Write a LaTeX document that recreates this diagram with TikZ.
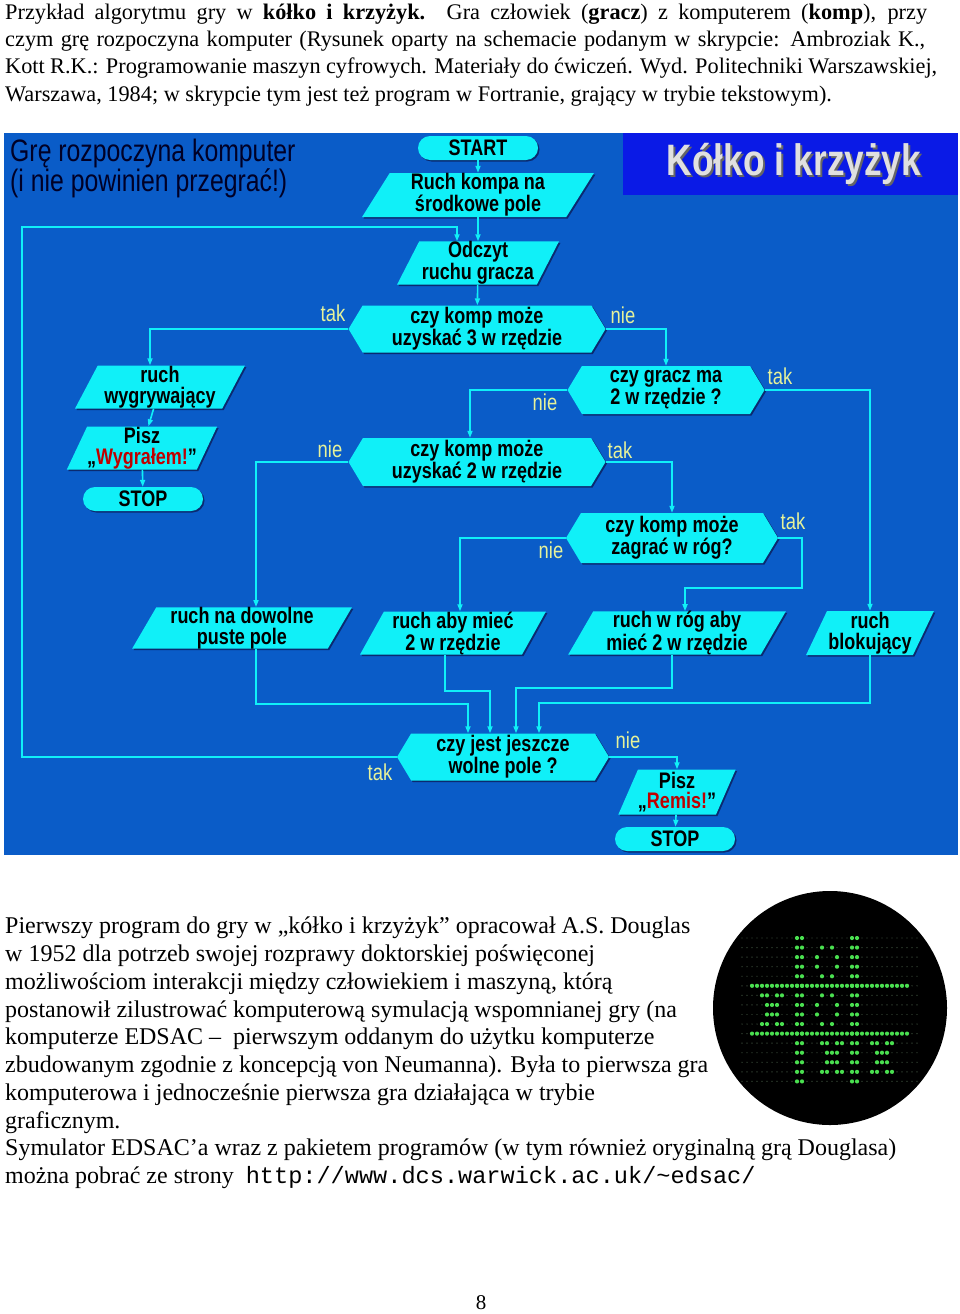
\documentclass[tikz,border=0pt]{standalone}
\usepackage{fontspec}
\setmainfont{Liberation Serif}
\setmonofont{Liberation Mono}
\newfontfamily\chartfont[FakeStretch=0.8]{Liberation Sans}
\usetikzlibrary{shapes.geometric, shapes.symbols, shapes.misc, shadows, arrows.meta}
\definecolor{panelblue}{HTML}{0A5CC8}
\definecolor{titleblue}{HTML}{0A1AE6}
\definecolor{boxcyan}{HTML}{10F0F8}
\definecolor{shadowblue}{HTML}{0A2A70}
\definecolor{labelyellow}{HTML}{E6F29A}
\definecolor{dotgreen}{HTML}{4AE050}
\definecolor{dimgreen}{HTML}{3A4A3A}
\tikzset{
  box/.style={fill=boxcyan, text=black, inner sep=0pt, align=center,
    font=\chartfont\bfseries\fontsize{22.5}{20.5}\selectfont,
    drop shadow={fill=shadowblue, shadow xshift=1.5pt, shadow yshift=-1.5pt, opacity=1}},
  iobox/.style={box, trapezium, trapezium left angle=64, trapezium right angle=116,
    trapezium stretches=true},
  askbox/.style={box, signal, signal to=east and west, signal pointer angle=118},
  termbox/.style={box, rounded rectangle, minimum width=120pt, minimum height=24pt},
  flow/.style={draw=boxcyan, line width=1.6pt, -{Triangle[length=7pt,width=5pt]}},
  answer/.style={text=labelyellow, font=\chartfont\fontsize{23}{23}\selectfont},
  para/.style={anchor=base west, inner sep=0pt, font=\fontsize{22.3}{26}\selectfont},
  lowpara/.style={anchor=base west, inner sep=0pt, font=\fontsize{24}{28}\selectfont},
}
\begin{document}
\begin{tikzpicture}[x=1pt, y=-1pt]
  \useasboundingbox (0,0) rectangle (960,1314);
  \fill[white] (0,0) rectangle (960,1314);

  % text above the chart
  \node[para] (t1) at (5,20) {\hbox to 922pt{Przykład algorytmu gry w \textbf{kółko i krzyżyk.} Gra człowiek (\textbf{gracz}) z komputerem (\textbf{komp}), przy}};
  \node[para] (t2) at (5,47) {\hbox to 920pt{czym grę rozpoczyna komputer (Rysunek oparty na schemacie podanym w skrypcie: Ambroziak K.,}};
  \node[para] (t3) at (5,74) {\hbox to 932pt{Kott R.K.: Programowanie maszyn cyfrowych. Materiały do ćwiczeń. Wyd. Politechniki Warszawskiej,}};
  \node[para] (t4) at (5,101) {Warszawa, 1984; w skrypcie tym jest też program w Fortranie, grający w trybie tekstowym).};

  % chart panel
  \fill[panelblue] (4,133) rectangle (958,855);
  \fill[titleblue] (623,133) rectangle (958,195);
  \node[text=black!60, font=\chartfont\bfseries\fontsize{44}{44}\selectfont] at (796,166) {Kółko i krzyżyk};
  \node[text=black!12, font=\chartfont\bfseries\fontsize{44}{44}\selectfont] (title) at (794,164) {Kółko i krzyżyk};
  \node[anchor=north west, align=left, inner sep=0pt, text=black!85!blue,
    font=\chartfont\fontsize{31}{29}\selectfont] (motto) at (10,139) {Grę rozpoczyna komputer\\(i nie powinien przegrać!)};

  \node[termbox] (start) at (478,148) {START};
  \node[iobox, minimum width=232pt, minimum height=44pt] (p1) at (478,195) {Ruch kompa na\\środkowe pole};
  \node[iobox, minimum width=162pt, minimum height=43pt] (p2) at (478,263) {Odczyt\\ruchu gracza};
  \node[askbox, minimum width=257pt, minimum height=47pt] (d1) at (477,329) {czy komp może\\uzyskać 3 w rzędzie};
  \node[iobox, minimum width=170pt, minimum height=43pt] (p3) at (160,387) {ruch\\wygrywający};
  \node[iobox, minimum width=140pt, minimum height=43pt] (p4) at (142,448) {Pisz\\„{\color{red!75!black}Wygrałem!}”};
  \node[termbox] (stop1) at (143,499) {STOP};
  \node[askbox, minimum width=197pt, minimum height=48pt] (d2) at (666,390) {czy gracz ma\\2 w rzędzie ?};
  \node[askbox, minimum width=257pt, minimum height=48pt] (d3) at (477,462) {czy komp może\\uzyskać 2 w rzędzie};
  \node[askbox, minimum width=212pt, minimum height=50pt] (d4) at (672,538) {czy komp może\\zagrać w róg?};
  \node[iobox, minimum width=220pt, minimum height=41pt] (p5) at (242,628) {ruch na dowolne\\puste pole};
  \node[iobox, minimum width=186pt, minimum height=43pt] (p6) at (453,633) {ruch aby mieć\\2 w rzędzie};
  \node[iobox, minimum width=218pt, minimum height=43pt] (p7) at (677,633) {ruch w róg aby\\mieć 2 w rzędzie};
  \node[iobox, minimum width=128pt, minimum height=44pt] (p8) at (870,633) {ruch\\blokujący};
  \node[askbox, minimum width=212pt, minimum height=47pt] (d5) at (503,757) {czy jest jeszcze\\wolne pole ?};
  \node[iobox, minimum width=112pt, minimum height=45pt] (p9) at (677,792) {Pisz\\„{\color{red!75!black}Remis!}”};
  \node[termbox] (stop2) at (675,839) {STOP};

  \coordinate (loop) at (22,227);
  \coordinate (k4) at (802,588);

  \draw[flow] (start) -- (p1);
  \draw[flow] (p1) -- (p2);
  \draw[flow] (d5.west) -| (loop) -| ([xshift=-21pt]p2.north);
  \draw[flow] (p2) -- (d1);
  \draw[flow] (d1.west) -| (p3.north -| 150,0);
  \draw[flow] (d1.east) -| (d2.north);
  \draw[flow] (p3) -- (p4);
  \draw[flow] (p4) -- (stop1);
  \draw[flow] (d2.west) -| (d3.north -| 470,0);
  \draw[flow] (d2.east) -| (p8.north);
  \draw[flow] (d3.west) -| (p5.north -| 256,0);
  \draw[flow] (d3.east) -| (d4.north);
  \draw[flow] (d4.west) -| (p6.north -| 460,0);
  \draw[flow] (d4.east) -| (k4) -| ([xshift=8pt]p7.north);
  \draw[flow] (p5.south -| 256,0) -- ++(0,55) -| ([xshift=-35pt]d5.north);
  \draw[flow] (p6.south -| 445,0) -- ++(0,36) -| ([xshift=-13pt]d5.north);
  \draw[flow] (p7.south -| 672,0) -- ++(0,33) -| ([xshift=13pt]d5.north);
  \draw[flow] (p8.south) -- ++(0,48) -| ([xshift=36pt]d5.north);
  \draw[flow] (d5.east) -| (p9.north);
  \draw[flow] (p9) -- (stop2);

  \node[answer] (a1) at (333,313) {tak};
  \node[answer] (a2) at (623,315) {nie};
  \node[answer] (a3) at (780,376) {tak};
  \node[answer] (a4) at (545,402) {nie};
  \node[answer] (a5) at (330,449) {nie};
  \node[answer] (a6) at (620,450) {tak};
  \node[answer] (a7) at (793,521) {tak};
  \node[answer] (a8) at (551,550) {nie};
  \node[answer] (a9) at (380,772) {tak};
  \node[answer] (a10) at (628,740) {nie};

  % EDSAC screen
  \fill[black] (830,1008) circle (117);
  \foreach \r in {0,...,15}
    \foreach \c in {0,...,35}
      \fill[dimgreen] (742+5*\c, 938+9.56*\r) circle (0.7);
  \foreach \r in {0,...,15}
    \foreach \c in {11,12,22,23}
      \fill[dotgreen] (742+5*\c, 938+9.56*\r) circle (2.1);
  \foreach \r in {5,10}
    \foreach \c in {2,...,33}
      \fill[dotgreen] (742+5*\c, 938+9.56*\r) circle (2.1);
  % noughts
  \foreach \r/\c in {1/16,1/18,2/15,2/19,3/15,3/19,4/16,4/18,
                     6/16,6/18,7/15,7/19,8/15,8/19,9/16,9/18}
    \fill[dotgreen] (742+5*\c, 938+9.56*\r) circle (2.1);
  % crosses
  \foreach \r/\c in {6/4,6/5,6/7,6/8,7/5,7/6,7/7,8/5,8/6,8/7,9/4,9/5,9/7,9/8,
                     11/16,11/17,11/19,11/20,12/17,12/18,12/19,13/17,13/18,13/19,14/16,14/17,14/19,14/20,
                     11/26,11/27,11/29,11/30,12/27,12/28,12/29,13/27,13/28,13/29,14/26,14/27,14/29,14/30}
    \fill[dotgreen] (742+5*\c, 938+9.56*\r) circle (2.1);

  % text below the chart
  \node[lowpara] (b1) at (5,933) {Pierwszy program do gry w „kółko i krzyżyk” opracował A.S. Douglas};
  \node[lowpara] (b2) at (5,961) {w 1952 dla potrzeb swojej rozprawy doktorskiej poświęconej};
  \node[lowpara] (b3) at (5,989) {możliwościom interakcji między człowiekiem i maszyną, którą};
  \node[lowpara] (b4) at (5,1017) {postanowił zilustrować komputerową symulacją wspomnianej gry (na};
  \node[lowpara] (b5) at (5,1044) {komputerze EDSAC –\ \ pierwszym oddanym do użytku komputerze};
  \node[lowpara] (b6) at (5,1072) {zbudowanym zgodnie z koncepcją von Neumanna). Była to pierwsza gra};
  \node[lowpara] (b7) at (5,1100) {komputerowa i jednocześnie pierwsza gra działająca w trybie};
  \node[lowpara] (b8) at (5,1128) {graficznym.};
  \node[lowpara] (b9) at (5,1155) {Symulator EDSAC'a wraz z pakietem programów (w tym również oryginalną grą Douglasa)};
  \node[lowpara] (b10) at (5,1183) {można pobrać ze strony \ \texttt{\fontsize{23.6}{28}\selectfont http://www.dcs.warwick.ac.uk/\string~edsac/}};

  \node[font=\fontsize{21}{21}\selectfont] (page) at (481,1303) {8};
\end{tikzpicture}
\end{document}
